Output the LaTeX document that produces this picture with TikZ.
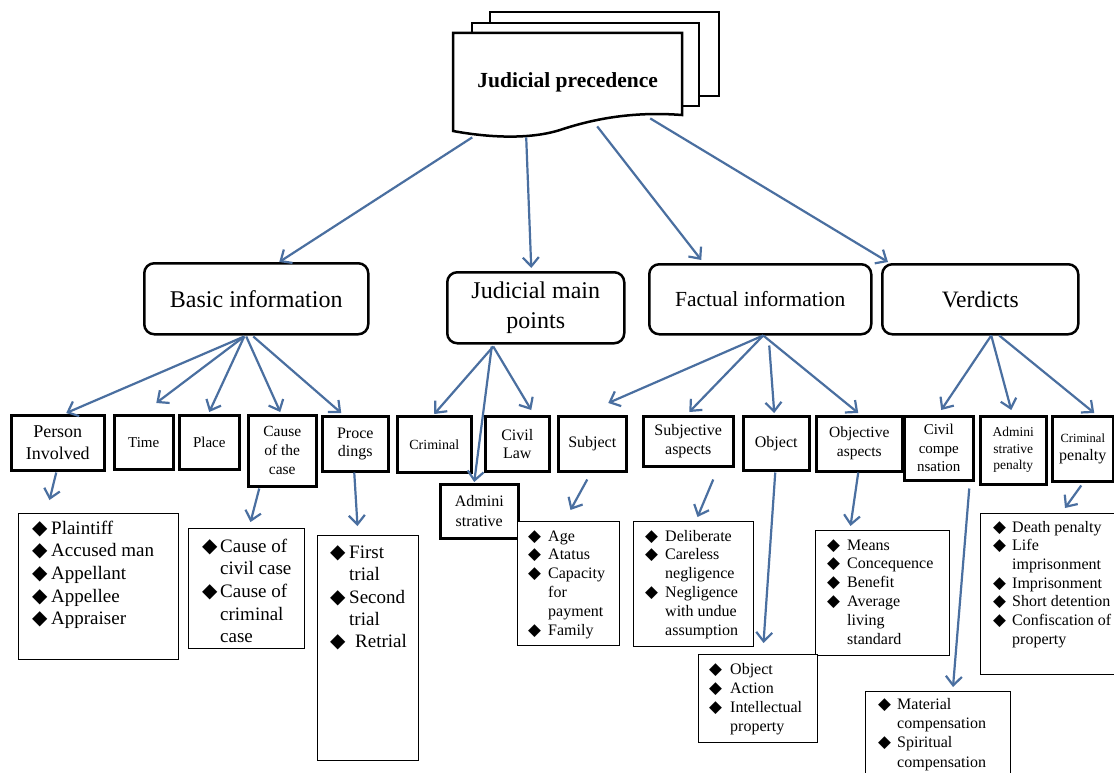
\documentclass[tikz,border=0pt]{standalone}
\usepackage{fontspec}
\setmainfont{Liberation Serif}
\newfontfamily\dvs{DejaVu Sans}[Scale=1.05]
\usetikzlibrary{arrows.meta}
\definecolor{arrowblue}{HTML}{4A6FA0}
\newcommand\fs[2]{\fontsize{#1}{#2}\selectfont}
\newcommand\dm[1]{\makebox[#1][l]{\dvs\char"25C6}}
\newcommand\ind[1]{\hspace*{#1}}
\tikzset{
  page/.style={draw=black, fill=white, line width=2.5pt, line join=miter},
  topbox/.style={draw=black, fill=white, line width=2.5pt, rounded corners=10pt,
    anchor=north west, inner sep=0pt, align=center},
  lab/.style={draw=black, fill=white, line width=2.5pt, anchor=north west,
    inner sep=0pt, align=center},
  bbox/.style={draw=black, fill=white, line width=1pt, anchor=north west, inner sep=0pt},
  btxt/.style={anchor=north west, inner sep=0pt, align=left},
  arr/.style={draw=arrowblue, line width=2.2pt,
    -{Straight Barb[length=9pt,width=16pt]}},
}
\begin{document}
\begin{tikzpicture}[x=1pt, y=-1pt]
\fill[white] (0,0) rectangle (1114,773);
\clip (0,0) rectangle (1114,773);

% stacked document
\draw[page] (490,12) rectangle (719,96);
\draw[page] (472,23) rectangle (699,106);
\draw[page] (453,33) -- (682,33) -- (682,115)
  .. controls (630,111) and (590,120) .. (560,130)
  .. controls (525,141) and (480,136) .. (453,131) -- cycle;
\node[anchor=north west, minimum width=229pt, minimum height=99pt, inner sep=0pt,
  font=\bfseries\fs{21.5}{26}] (doc) at (453,33) {Judicial precedence};

% second level
\node[topbox, minimum width=224pt, minimum height=71pt, font=\fs{24}{29}] (basic) at (143,262) {Basic information};
\node[topbox, minimum width=177pt, minimum height=71pt, font=\fs{24}{30}] (points) at (446,271) {Judicial main\\points};
\node[topbox, minimum width=222pt, minimum height=70pt, font=\fs{21.5}{26}] (fact) at (648,263) {Factual information};
\node[topbox, minimum width=196pt, minimum height=70pt, font=\fs{23.5}{28}] (verd) at (881,263) {Verdicts};

% third level
\node[lab, minimum width=93pt, minimum height=55pt, font=\fs{18}{22}] (person) at (10,414) {Person\\Involved};
\node[lab, minimum width=59pt, minimum height=54pt, font=\fs{15}{18}] (time) at (113,414) {Time};
\node[lab, minimum width=60pt, minimum height=54pt, font=\fs{15}{18}] (place) at (178,414) {Place};
\node[lab, minimum width=68pt, minimum height=71pt, font=\fs{15.5}{19}] (cause) at (247,414) {Cause\\of the\\case};
\node[lab, minimum width=66pt, minimum height=55pt, font=\fs{16}{18.5}] (proc) at (321,415) {Proce\\dings};
\node[lab, minimum width=74pt, minimum height=56pt, font=\fs{14}{17}] (crim) at (396,415) {Criminal};
\node[lab, minimum width=64pt, minimum height=55pt, font=\fs{16}{18}] (civil) at (484,415) {Civil\\Law};
\node[lab, minimum width=68pt, minimum height=55pt, font=\fs{16}{19}] (subj) at (557,415) {Subject};
\node[lab, minimum width=78pt, minimum height=54pt, font=\fs{16}{20}] (admin) at (439,483) {Admini\\strative};
\node[lab, minimum width=90pt, minimum height=50pt, font=\fs{16}{19}] (sbj) at (642,415) {Subjective\\aspects};
\node[lab, minimum width=66pt, minimum height=54pt, font=\fs{16}{19}] (obj) at (742,415) {Object};
\node[lab, minimum width=86pt, minimum height=55pt, font=\fs{15.5}{19}] (objv) at (815,415) {Objective\\aspects};
\node[lab, minimum width=69pt, minimum height=64pt, font=\fs{15}{18.5}] (civc) at (903,415) {Civil\\compe\\nsation};
\node[lab, minimum width=66pt, minimum height=68pt, font=\fs{13.5}{16.5}] (admp) at (979,415) {Admini\\strative\\penalty};
\node[lab, minimum width=61pt, minimum height=65pt, font=\fs{16}{18}] (crp) at (1051,415) {{\fs{12.5}{15}Criminal}\\penalty};

% detail boxes
\node[bbox, minimum width=160pt, minimum height=146pt] (pb) at (18,513) {};
\node[bbox, minimum width=116pt, minimum height=120pt] (cb) at (188,528) {};
\node[bbox, minimum width=101pt, minimum height=225pt] (prb) at (317,535) {};
\node[bbox, minimum width=102pt, minimum height=124pt] (sb) at (517,521) {};
\node[bbox, minimum width=120pt, minimum height=125pt] (sjb) at (633,521) {};
\node[bbox, minimum width=134pt, minimum height=125pt] (ovb) at (815,530) {};
\node[bbox, minimum width=119pt, minimum height=88pt] (ob) at (698,654) {};
\node[bbox, minimum width=136pt, minimum height=161pt] (cpb) at (980,513) {};
\node[bbox, minimum width=145pt, minimum height=90pt] (ccb) at (865,691) {};

% detail texts
\node[btxt, font=\fs{19}{22.7}] (pbt) at (32,518.1)
  {\strut\dm{19pt}Plaintiff\\\dm{19pt}Accused man\\\dm{19pt}Appellant\\\dm{19pt}Appellee\\\dm{19pt}Appraiser};
\node[btxt, font=\fs{19}{22.7}] (cbt) at (202,536.1)
  {\strut\dm{18pt}Cause of\\\ind{18pt}civil case\\\dm{18pt}Cause of\\\ind{18pt}criminal\\\ind{18pt}case};
\node[btxt, font=\fs{19}{22.3}] (prbt) at (330,542.6)
  {\strut\dm{19pt}First\\\ind{19pt}trial\\\dm{19pt}Second\\\ind{19pt}trial\\\dm{19pt}\hspace{6pt}Retrial};
\node[btxt, font=\fs{16}{18.8}] (sbt) at (528,527.8)
  {\strut\dm{20pt}Age\\\dm{20pt}Atatus\\\dm{20pt}Capacity\\\ind{20pt}for\\\ind{20pt}payment\\\dm{20pt}Family};
\node[btxt, font=\fs{16}{18.8}] (sjbt) at (645,527.8)
  {\strut\dm{20pt}Deliberate\\\dm{20pt}Careless\\\ind{20pt}negligence\\\dm{20pt}Negligence\\\ind{20pt}with undue\\\ind{20pt}assumption};
\node[btxt, font=\fs{16}{18.8}] (ovbt) at (827,536.8)
  {\strut\dm{20pt}Means\\\dm{20pt}Concequence\\\dm{20pt}Benefit\\\dm{20pt}Average\\\ind{20pt}living\\\ind{20pt}standard};
\node[btxt, font=\fs{16}{19}] (obt) at (709,660.7)
  {\strut\dm{21pt}Object\\\dm{21pt}Action\\\dm{21pt}Intellectual\\\ind{21pt}property};
\node[btxt, font=\fs{16}{18.7}] (cpbt) at (993,518.9)
  {\strut\dm{19pt}Death penalty\\\dm{19pt}Life\\\ind{19pt}imprisonment\\\dm{19pt}Imprisonment\\\dm{19pt}Short detention\\\dm{19pt}Confiscation of\\\ind{19pt}property};
\node[btxt, font=\fs{16}{19.3}] (ccbt) at (878,695.5)
  {\strut\dm{19pt}Material\\\ind{19pt}compensation\\\dm{19pt}Spiritual\\\ind{19pt}compensation};

% connectors from the document
\draw[arr] ([xshift=-95.5pt,yshift=-5pt]doc.south) -- ([xshift=23pt]basic.north);
\draw[arr] ([xshift=-41.5pt,yshift=-5pt]doc.south) -- ([xshift=-4.5pt,yshift=3pt]points.north);
\draw[arr] ([xshift=29.5pt,yshift=6pt]doc.south) -- ([xshift=-59pt,yshift=3pt]fact.north);
\draw[arr] ([xshift=82.5pt,yshift=14pt]doc.south) -- ([xshift=7pt,yshift=1pt]verd.north west);

% basic information
\draw[arr] ([xshift=-12pt,yshift=-1pt]basic.south) -- ([xshift=8.5pt,yshift=1pt]person.north);
\draw[arr] ([xshift=-12pt,yshift=-1pt]basic.south) -- ([xshift=12.5pt,yshift=11pt]time.north);
\draw[arr] ([xshift=-12pt,yshift=-1pt]basic.south) -- ([yshift=2pt]place.north);
\draw[arr] ([xshift=-10pt,yshift=-1pt]basic.south) -- ([xshift=-2pt,yshift=2pt]cause.north);
\draw[arr] ([xshift=-3pt,yshift=-1pt]basic.south) -- ([xshift=-14pt,yshift=2pt]proc.north);

% judicial main points
\draw[arr] ([xshift=-42.5pt,yshift=-2pt]points.south) -- ([yshift=1pt]crim.north);
\draw[arr] ([xshift=-44pt,yshift=-2pt]points.south) -- ([xshift=-5pt,yshift=1pt]admin.north);
\draw[arr] ([xshift=-42.5pt,yshift=-2pt]points.south) -- ([xshift=14pt,yshift=5pt]civil.north);

% factual information
\draw[arr] ([xshift=3pt]fact.south) -- ([xshift=16pt,yshift=12pt]subj.north);
\draw[arr] ([xshift=3pt]fact.south) -- ([xshift=1pt,yshift=3pt]sbj.north);
\draw[arr] ([xshift=9pt,yshift=-10pt]fact.south) -- ([xshift=-2pt,yshift=2pt]obj.north);
\draw[arr] ([xshift=3pt]fact.south) -- ([xshift=-1pt,yshift=2pt]objv.north);

% verdicts
\draw[arr] ([xshift=11pt]verd.south) -- ([xshift=2.5pt,yshift=5pt]civc.north);
\draw[arr] ([xshift=11pt]verd.south) -- ([xshift=-2pt,yshift=5pt]admp.north);
\draw[arr] ([xshift=19pt]verd.south) -- ([xshift=11.5pt,yshift=2pt]crp.north);

% third level to details
\draw[arr] ([xshift=-1.5pt,yshift=-1pt]person.south) -- ([xshift=-49pt,yshift=13pt]pb.north);
\draw[arr] ([xshift=-23pt,yshift=-1pt]cause.south) -- ([xshift=4pt,yshift=6pt]cb.north);
\draw[arr] ([xshift=-1pt]proc.south) -- ([xshift=-10.5pt,yshift=9pt]prb.north);
\draw[arr] ([xshift=-5pt,yshift=-7pt]subj.south) -- ([xshift=2pt,yshift=11pt]sb.north);
\draw[arr] ([xshift=25pt,yshift=-12pt]sbj.south) -- ([xshift=4pt,yshift=4pt]sjb.north);
\draw[arr] ([xshift=-1pt,yshift=-1pt]obj.south) -- ([xshift=5.5pt,yshift=11pt]ob.north);
\draw[arr] ([xshift=-1pt]objv.south) -- ([xshift=-32pt,yshift=4pt]ovb.north);
\draw[arr] ([xshift=30.5pt,yshift=-7pt]civc.south) -- ([xshift=88pt,yshift=4pt]ccb.north west);
\draw[arr] ([xshift=-1.5pt,yshift=-3pt]crp.south) -- ([xshift=85pt,yshift=5pt]cpb.north west);
\end{tikzpicture}
\end{document}
